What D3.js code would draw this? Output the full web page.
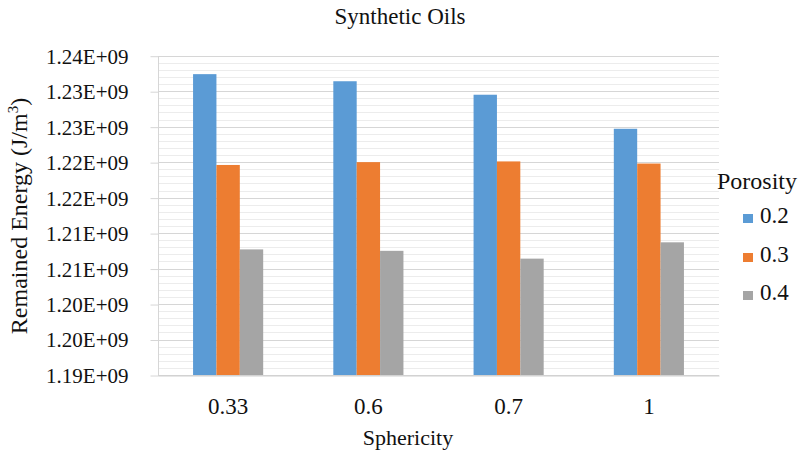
<!DOCTYPE html>
<html>
<head>
<meta charset="utf-8">
<script src="https://cdn.jsdelivr.net/npm/d3@7"></script>
<style>
  html, body { margin: 0; padding: 0; background: #fff; }
  svg text { font-family: "Liberation Serif", "Times New Roman", serif !important; }
</style>
</head>
<body>
<svg id="chart" width="800" height="457"></svg>
<script>
// ---- data ----
const categories = ["0.33", "0.6", "0.7", "1"];
const seriesNames = ["0.2", "0.3", "0.4"];
const porosity02 = [1.2324e9, 1.2314e9, 1.2295e9, 1.2247e9];
const porosity03 = [1.2196e9, 1.2200e9, 1.2201e9, 1.2198e9];
const porosity04 = [1.2077e9, 1.2075e9, 1.2064e9, 1.2087e9];
const seriesValues = [porosity02, porosity03, porosity04];
const seriesColors = ["#5b9bd5", "#ed7d31", "#a5a5a5"];
const yTicks = [1.190e9, 1.195e9, 1.200e9, 1.205e9, 1.210e9, 1.215e9, 1.220e9, 1.225e9, 1.230e9, 1.235e9];
const yTickLabels = ["1.19E+09", "1.20E+09", "1.20E+09", "1.21E+09", "1.21E+09", "1.22E+09", "1.22E+09", "1.23E+09", "1.23E+09", "1.24E+09"];
const yMinorTicks = d3.range(1190, 1236, 1).map(v => v * 1e6);

const FONT = '"Liberation Serif", "Times New Roman", serif';
const svg = d3.select("#chart");
const plot = { left: 158, right: 719, top: 55.7, bottom: 375 };

const y = d3.scaleLinear().domain([1.190e9, 1.235e9]).range([plot.bottom, plot.top]);
const x0 = d3.scaleBand().domain(categories).range([plot.left, plot.right]).paddingInner(0).paddingOuter(0);
const bw = x0.bandwidth();
const x1 = d3.scaleBand().domain(seriesNames).range([bw * 0.25, bw * 0.75]).padding(0);

// minor gridlines
svg.append("g").selectAll("line").data(yMinorTicks.filter(v => !yTicks.some(t => Math.abs(t - v) < 1)))
  .join("line")
  .attr("x1", plot.left).attr("x2", plot.right)
  .attr("y1", d => Math.round(y(d)) + 0.5).attr("y2", d => Math.round(y(d)) + 0.5)
  .attr("stroke", "#ececec").attr("stroke-width", 1);

// major gridlines
svg.append("g").selectAll("line").data(yTicks)
  .join("line")
  .attr("x1", plot.left).attr("x2", plot.right)
  .attr("y1", d => Math.round(y(d)) + 0.5).attr("y2", d => Math.round(y(d)) + 0.5)
  .attr("stroke", "#d6d6d6").attr("stroke-width", 1);

// y axis
const yAxis = d3.axisLeft(y).tickValues(yTicks)
  .tickFormat((d, i) => yTickLabels[i]).tickSize(8).tickPadding(22);
const gy = svg.append("g").attr("transform", `translate(${plot.left + 0.5},0.5)`).call(yAxis);
gy.attr("font-family", null);
gy.select(".domain").attr("stroke", "#d6d6d6").attr("d", `M0,${Math.round(plot.top)}V${Math.round(plot.bottom)}`);
gy.selectAll(".tick line").attr("stroke", "#d6d6d6");
gy.selectAll(".tick text").style("font-size", "21px").style("font-family", FONT).attr("fill", "#111")
  .attr("dy", "0.33em");

// bars
const groups = svg.append("g").selectAll("g").data(categories).join("g")
  .attr("transform", d => `translate(${x0(d)},0)`);
groups.selectAll("rect")
  .data((c, ci) => seriesNames.map((s, si) => ({ s, si, v: seriesValues[si][ci] })))
  .join("rect")
  .attr("x", d => x1(d.s))
  .attr("width", x1.bandwidth())
  .attr("y", d => y(d.v))
  .attr("height", d => y(1.190e9) - y(d.v))
  .attr("fill", d => seriesColors[d.si]);

// x axis
const xAxis = d3.axisBottom(x0).tickSize(0).tickPadding(22);
const gx = svg.append("g").attr("transform", `translate(0,${Math.round(plot.bottom) + 0.5})`).call(xAxis);
gx.attr("font-family", null);
gx.select(".domain").attr("stroke", "#cfcfcf");
gx.selectAll(".tick text").style("font-size", "23px").style("font-family", FONT).attr("fill", "#111");

// title
svg.append("text").attr("x", 400).attr("y", 24).attr("text-anchor", "middle")
  .style("font-family", FONT).style("font-size", "23px").attr("fill", "#111").text("Synthetic Oils");

// x title
svg.append("text").attr("x", 408).attr("y", 445).attr("text-anchor", "middle")
  .style("font-family", FONT).style("font-size", "22px").attr("fill", "#111").text("Sphericity");

// y title
const yt = svg.append("text").attr("transform", "translate(27,216) rotate(-90)")
  .attr("text-anchor", "middle").style("font-family", FONT).style("font-size", "24px").attr("fill", "#111");
yt.append("tspan").text("Remained Energy (J/m");
yt.append("tspan").style("font-size", "15px").attr("dy", "-9").text("3");
yt.append("tspan").attr("dy", "9").text(")");

// legend
const lg = svg.append("g");
lg.append("text").attr("x", 717).attr("y", 189).style("font-family", FONT).style("font-size", "24px")
  .attr("fill", "#111").text("Porosity");
const items = lg.selectAll("g.item").data(seriesNames).join("g").attr("class", "item")
  .attr("transform", (d, i) => `translate(0,${[223, 262, 300][i]})`);
items.append("rect").attr("x", 743).attr("y", -9).attr("width", 10).attr("height", 9)
  .attr("fill", (d, i) => seriesColors[i]);
items.append("text").attr("x", 760).attr("y", 0).style("font-family", FONT).style("font-size", "23px")
  .attr("fill", "#111").text(d => d);
</script>
</body>
</html>
